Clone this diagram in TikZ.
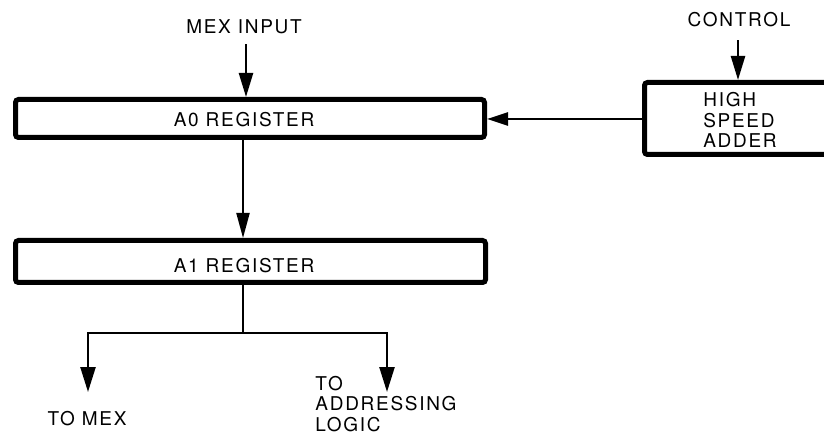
\documentclass[tikz,border=0pt]{standalone}
\usepackage{fontspec}
\setmainfont{TeX Gyre Heros}[LetterSpace=9]
\usetikzlibrary{arrows.meta}

\tikzset{
  regbox/.style={draw, line width=5pt, rounded corners=3pt, inner sep=0pt},
  lbl/.style={font=\fontsize{19}{20.5}\selectfont, inner sep=0pt, align=left},
  wire/.style={line width=2.4pt},
  conn/.style={wire, -{Triangle[length=24pt,width=14pt]}},
}

\begin{document}
\begin{tikzpicture}[x=1pt,y=-1pt]
  \useasboundingbox (0,0) rectangle (824,435);
  \clip (0,0) rectangle (824,435);

  % registers and adder (the adder runs on past the right edge)
  \node[regbox, minimum width=469pt, minimum height=38pt] (a0) at (250,118.5) {};
  \node[lbl] (a0text) at (244,120) {A0 REGISTER};
  \node[regbox, minimum width=470pt, minimum height=42pt] (a1) at (250.5,261.5) {};
  \node[lbl] (a1text) at (244,266) {A1 REGISTER};
  \node[regbox, minimum width=260pt, minimum height=72pt] (adder) at (774.5,118.5) {};
  \node[lbl] (addertext) at (740,120) {HIGH\\SPEED\\ADDER};

  % external labels
  \node[lbl] (mexin) at (244,27) {MEX INPUT};
  \node[lbl] (ctrl) at (739,20) {CONTROL};
  \node[lbl] (tomex) at (87,419) {TO MEX};
  \node[lbl] (toaddr) at (386,404) {TO\\ADDRESSING\\LOGIC};

  % routing points
  \coordinate (mexcol) at (246,0);
  \coordinate (ctrlcol) at (738,0);
  \coordinate (feedrow) at (0,119);
  \coordinate (split) at (243,333);
  \coordinate (lefttip) at (88,392);
  \coordinate (righttip) at (387,392);

  % inputs
  \draw[conn, shorten <=10pt] (mexin.south -| mexcol) -- (a0.north -| mexcol);
  \draw[conn, shorten <=13pt] (ctrl.south -| ctrlcol) -- (adder.north -| ctrlcol);

  % adder feeds A0
  \draw[wire, -{Triangle[length=21pt,width=13pt]}] (adder.west |- feedrow) -- (a0.east |- feedrow);

  % A0 to A1
  \draw[wire, line width=2pt, -{Triangle[length=25pt,width=13pt]}] (a0.south -| split) -- (a1.north -| split);

  % A1 outputs
  \draw[wire] (a1.south -| split) -- (split);
  \draw[conn, -{Triangle[length=25pt,width=15pt]}] (split) -| (lefttip);
  \draw[conn, -{Triangle[length=25pt,width=15pt]}] (split) -| (righttip);
\end{tikzpicture}
\end{document}
